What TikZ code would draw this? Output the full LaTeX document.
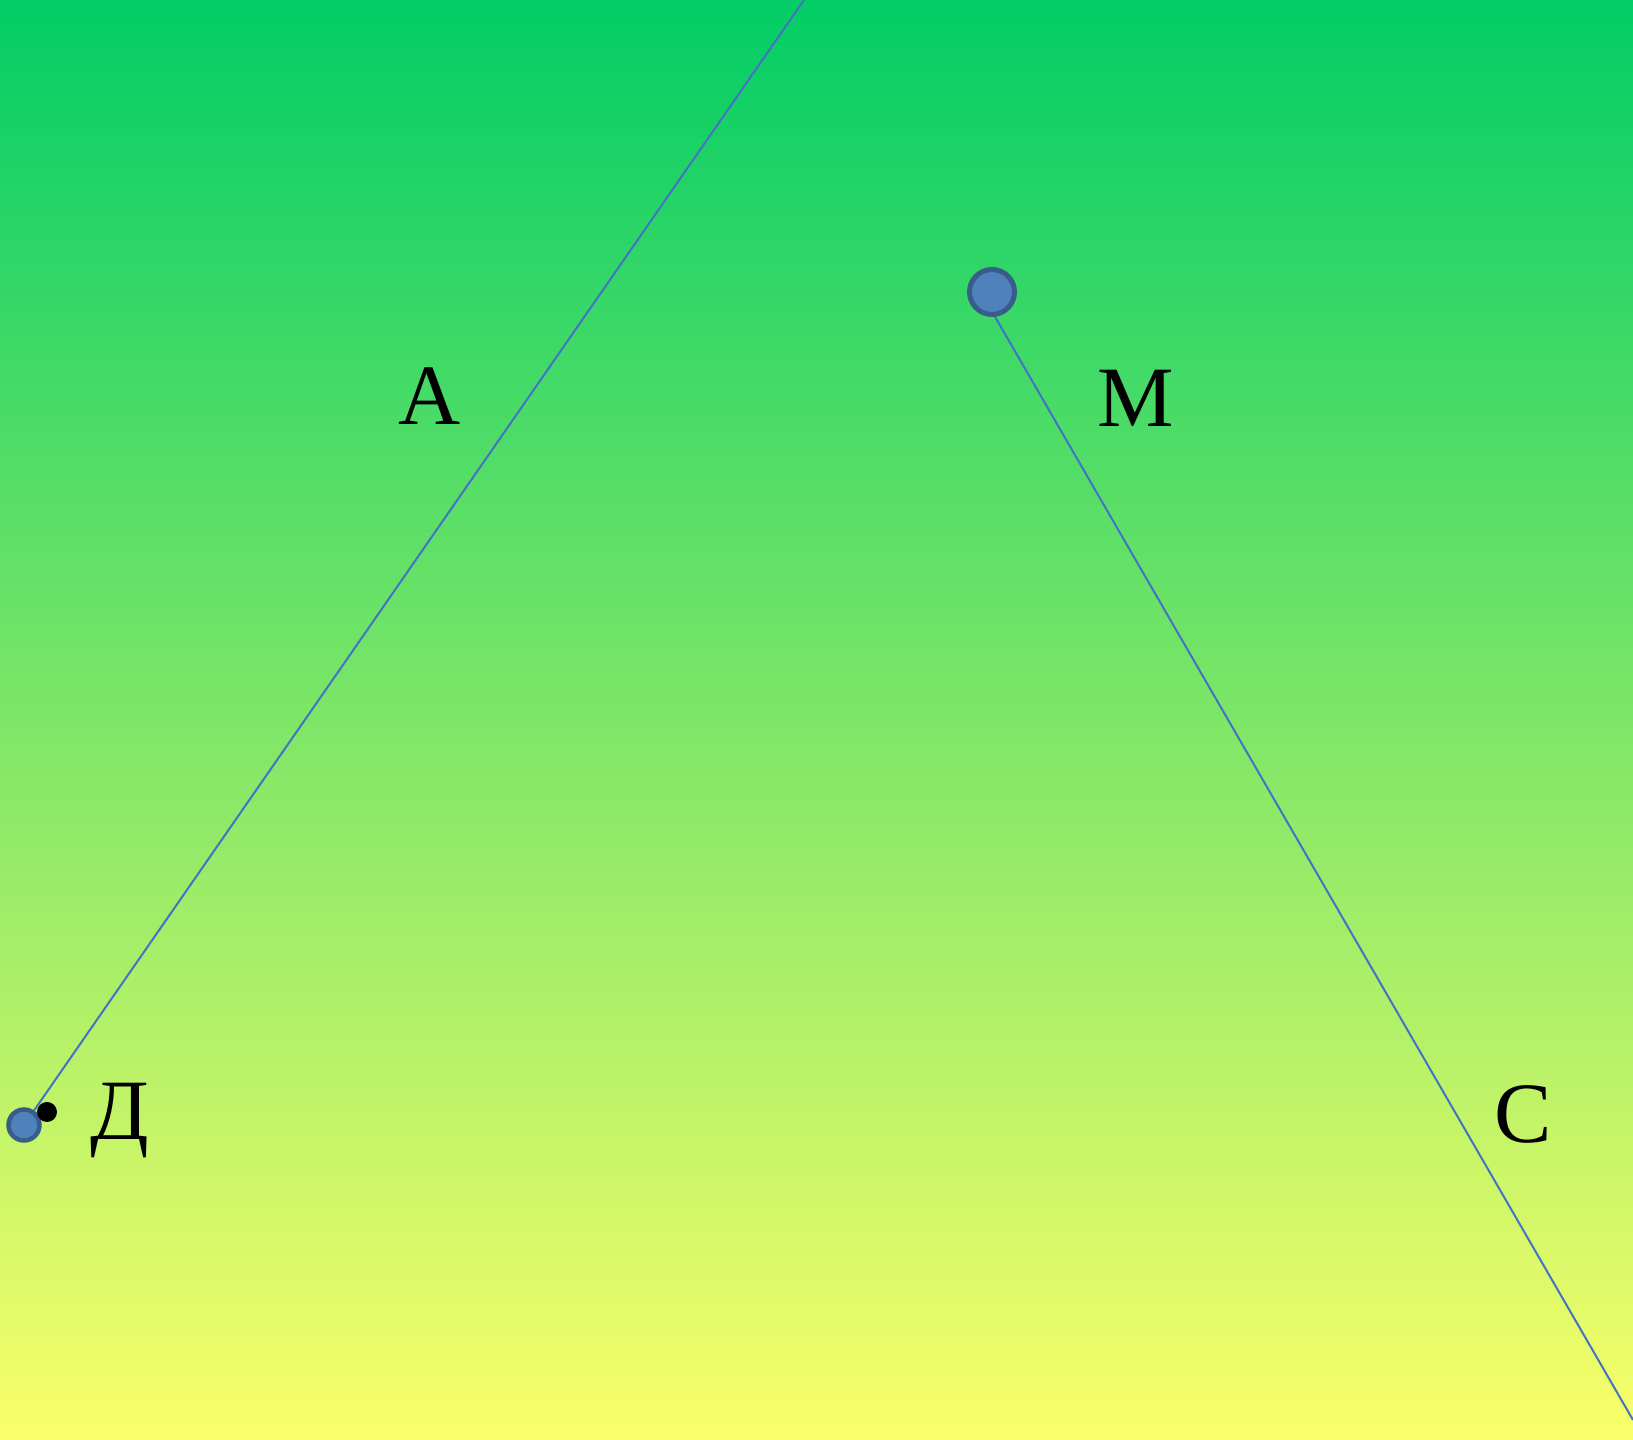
\documentclass[tikz,border=0pt]{standalone}
\usepackage{fontspec}
\setmainfont{Liberation Serif}
\definecolor{topgreen}{RGB}{2,205,102}
\definecolor{botyellow}{RGB}{250,255,105}
\definecolor{ptfill}{RGB}{79,129,189}
\definecolor{ptdraw}{RGB}{56,93,138}
\definecolor{linecol}{RGB}{68,114,196}
\begin{document}
\begin{tikzpicture}[x=1pt,y=1pt,
  bigpt/.style={circle,fill=ptfill,draw=ptdraw,line width=5pt,minimum size=45pt,inner sep=0pt},
  smallpt/.style={circle,fill=ptfill,draw=ptdraw,line width=4.5pt,minimum size=31pt,inner sep=0pt},
  seg/.style={draw=linecol,line width=2pt},
  lbl/.style={font=\fontsize{86}{86}\selectfont,anchor=base,inner sep=0pt}]
\useasboundingbox (0,0) rectangle (1633,1440);
\shade[top color=topgreen,bottom color=botyellow] (0,0) rectangle (1633,1440);
\coordinate (t1) at (804,1440);
\coordinate (e2) at (1633,20);
\coordinate (s2) at (994,1125);
\draw[seg] (s2) -- (e2);
\node[bigpt] (M) at (992,1148) {};
\node[smallpt] (D) at (24,315) {};
\node[circle,fill=black,minimum size=20pt,inner sep=0pt] (dot) at (47,328) {};
\draw[seg] (t1) -- (D);
\node[lbl] (la) at (430,1015) {А};
\node[lbl] (lm) at (1136,1013) {М};
\node[lbl] (lc) at (1523,297) {С};
\node[lbl] (ld) at (120,300) {Д};
\end{tikzpicture}
\end{document}
